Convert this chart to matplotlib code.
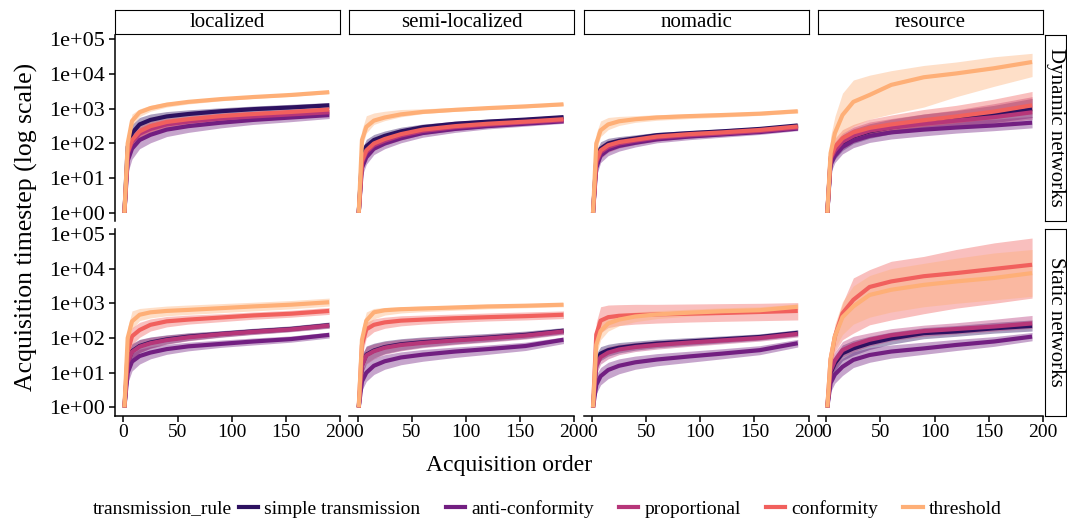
import matplotlib.pyplot as plt
from matplotlib.lines import Line2D
from matplotlib.ticker import FixedLocator, NullLocator

plt.rcParams['font.family'] = ['Liberation Serif', 'DejaVu Serif']

x_order = [1, 4, 8, 15, 25, 40, 60, 90, 120, 155, 190]

rules = ['simple transmission', 'anti-conformity', 'proportional', 'conformity', 'threshold']
colors = ['#2D1160', '#721F81', '#B63679', '#F1605D', '#FEAF77']
movement = ['localized', 'semi-localized', 'nomadic', 'resource']
networks = ['Dynamic networks', 'Static networks']

y_ticks = [1, 10, 100, 1000, 10000, 100000]
y_tick_labels = ['1e+00', '1e+01', '1e+02', '1e+03', '1e+04', '1e+05']
x_ticks = [0, 50, 100, 150, 200]

# log10(acquisition timestep); rows in the order of `rules`
dyn_loc_mid = [
    [0, 1.9, 2.3, 2.55, 2.68, 2.78, 2.85, 2.93, 2.99, 3.04, 3.1],
    [0, 1.5, 1.85, 2.1, 2.25, 2.4, 2.5, 2.6, 2.68, 2.75, 2.82],
    [0, 1.7, 2.05, 2.28, 2.42, 2.55, 2.63, 2.72, 2.78, 2.84, 2.9],
    [0, 1.75, 2.1, 2.35, 2.5, 2.62, 2.7, 2.79, 2.85, 2.91, 2.98],
    [0, 2.0, 2.65, 2.9, 3.02, 3.12, 3.2, 3.28, 3.34, 3.4, 3.48],
]
dyn_loc_lo = [
    [0, 1.6, 2.05, 2.35, 2.5, 2.63, 2.72, 2.82, 2.89, 2.95, 3.02],
    [0, 1.15, 1.55, 1.85, 2.02, 2.2, 2.32, 2.45, 2.55, 2.63, 2.72],
    [0, 1.45, 1.85, 2.1, 2.25, 2.4, 2.5, 2.6, 2.68, 2.75, 2.82],
    [0, 1.5, 1.9, 2.17, 2.33, 2.48, 2.58, 2.68, 2.76, 2.83, 2.9],
    [0, 1.8, 2.5, 2.78, 2.93, 3.05, 3.14, 3.23, 3.3, 3.36, 3.44],
]
dyn_loc_hi = [
    [0, 2.2, 2.55, 2.75, 2.85, 2.92, 2.97, 3.03, 3.08, 3.13, 3.18],
    [0, 1.8, 2.1, 2.3, 2.43, 2.55, 2.65, 2.73, 2.8, 2.86, 2.92],
    [0, 1.95, 2.25, 2.45, 2.58, 2.68, 2.75, 2.83, 2.88, 2.93, 2.98],
    [0, 2.0, 2.3, 2.5, 2.63, 2.73, 2.8, 2.88, 2.93, 2.98, 3.05],
    [0, 2.3, 2.85, 3.0, 3.1, 3.19, 3.25, 3.32, 3.38, 3.43, 3.52],
]

dyn_semi_mid = [
    [0, 1.6, 1.92, 2.1, 2.22, 2.35, 2.47, 2.57, 2.63, 2.69, 2.76],
    [0, 1.3, 1.6, 1.85, 2.0, 2.15, 2.3, 2.42, 2.5, 2.57, 2.64],
    [0, 1.45, 1.75, 1.95, 2.08, 2.23, 2.36, 2.47, 2.54, 2.61, 2.67],
    [0, 1.5, 1.8, 2.0, 2.13, 2.27, 2.4, 2.5, 2.57, 2.63, 2.7],
    [0, 2.1, 2.48, 2.66, 2.75, 2.84, 2.91, 2.97, 3.02, 3.07, 3.13],
]
dyn_semi_lo = [
    [0, 1.4, 1.75, 1.95, 2.08, 2.22, 2.36, 2.48, 2.55, 2.62, 2.7],
    [0, 1.05, 1.4, 1.68, 1.85, 2.02, 2.18, 2.32, 2.42, 2.5, 2.58],
    [0, 1.25, 1.58, 1.8, 1.95, 2.1, 2.26, 2.38, 2.47, 2.54, 2.61],
    [0, 1.3, 1.62, 1.85, 2.0, 2.15, 2.3, 2.42, 2.5, 2.57, 2.64],
    [0, 1.9, 2.3, 2.55, 2.66, 2.77, 2.86, 2.93, 2.98, 3.03, 3.09],
]
dyn_semi_hi = [
    [0, 1.85, 2.12, 2.26, 2.36, 2.47, 2.56, 2.64, 2.7, 2.75, 2.82],
    [0, 1.55, 1.8, 2.0, 2.13, 2.27, 2.4, 2.5, 2.57, 2.63, 2.7],
    [0, 1.65, 1.93, 2.1, 2.22, 2.35, 2.46, 2.55, 2.61, 2.67, 2.73],
    [0, 1.7, 1.98, 2.15, 2.26, 2.38, 2.49, 2.58, 2.64, 2.69, 2.76],
    [0, 2.4, 2.8, 2.88, 2.93, 2.98, 3.0, 3.04, 3.07, 3.11, 3.17],
]

dyn_nom_mid = [
    [0, 1.55, 1.85, 2.0, 2.08, 2.15, 2.24, 2.3, 2.35, 2.42, 2.52],
    [0, 1.3, 1.65, 1.82, 1.93, 2.02, 2.12, 2.2, 2.26, 2.33, 2.43],
    [0, 1.45, 1.75, 1.9, 2.0, 2.08, 2.17, 2.24, 2.29, 2.36, 2.46],
    [0, 1.5, 1.8, 1.95, 2.04, 2.11, 2.2, 2.27, 2.32, 2.39, 2.49],
    [0, 2.0, 2.38, 2.55, 2.64, 2.7, 2.75, 2.79, 2.82, 2.86, 2.93],
]
dyn_nom_lo = [
    [0, 1.35, 1.68, 1.86, 1.96, 2.05, 2.15, 2.22, 2.28, 2.36, 2.46],
    [0, 1.05, 1.45, 1.65, 1.78, 1.9, 2.02, 2.11, 2.18, 2.26, 2.37],
    [0, 1.25, 1.57, 1.75, 1.87, 1.97, 2.07, 2.16, 2.22, 2.3, 2.4],
    [0, 1.3, 1.62, 1.8, 1.91, 2.0, 2.1, 2.19, 2.25, 2.33, 2.43],
    [0, 1.8, 2.2, 2.4, 2.52, 2.61, 2.67, 2.72, 2.76, 2.81, 2.88],
]
dyn_nom_hi = [
    [0, 1.8, 2.05, 2.15, 2.2, 2.25, 2.32, 2.37, 2.42, 2.48, 2.57],
    [0, 1.55, 1.85, 1.98, 2.07, 2.14, 2.22, 2.28, 2.33, 2.4, 2.5],
    [0, 1.65, 1.92, 2.04, 2.12, 2.18, 2.26, 2.32, 2.36, 2.42, 2.52],
    [0, 1.7, 1.97, 2.09, 2.16, 2.21, 2.29, 2.35, 2.39, 2.45, 2.55],
    [0, 2.3, 2.65, 2.75, 2.78, 2.8, 2.83, 2.86, 2.88, 2.92, 2.98],
]

dyn_res_mid = [
    [0, 1.5, 1.75, 2.0, 2.2, 2.35, 2.47, 2.6, 2.7, 2.83, 2.99],
    [0, 1.4, 1.65, 1.9, 2.08, 2.22, 2.32, 2.4, 2.46, 2.52, 2.6],
    [0, 1.55, 1.8, 2.05, 2.22, 2.37, 2.46, 2.57, 2.66, 2.76, 2.9],
    [0, 1.6, 1.9, 2.15, 2.32, 2.45, 2.55, 2.67, 2.78, 2.92, 3.1],
    [0, 1.72, 2.3, 2.82, 3.2, 3.4, 3.69, 3.91, 4.02, 4.17, 4.35],
]
dyn_res_lo = [
    [0, 1.25, 1.55, 1.8, 2.0, 2.15, 2.28, 2.4, 2.5, 2.6, 2.75],
    [0, 1.15, 1.45, 1.7, 1.88, 2.03, 2.13, 2.22, 2.3, 2.37, 2.45],
    [0, 1.3, 1.6, 1.85, 2.03, 2.18, 2.3, 2.4, 2.48, 2.57, 2.7],
    [0, 1.35, 1.7, 1.95, 2.12, 2.27, 2.38, 2.5, 2.6, 2.72, 2.88],
    [0, 1.4, 1.9, 2.25, 2.5, 2.7, 2.85, 3.05, 3.35, 3.65, 3.93],
]
dyn_res_hi = [
    [0, 1.8, 2.0, 2.25, 2.42, 2.57, 2.7, 2.85, 2.95, 3.1, 3.3],
    [0, 1.65, 1.88, 2.1, 2.27, 2.42, 2.52, 2.6, 2.65, 2.7, 2.78],
    [0, 1.8, 2.05, 2.3, 2.47, 2.62, 2.72, 2.85, 2.97, 3.15, 3.35],
    [0, 1.9, 2.15, 2.4, 2.55, 2.7, 2.82, 2.98, 3.1, 3.28, 3.5],
    [0, 2.2, 2.78, 3.45, 3.83, 3.97, 4.1, 4.25, 4.35, 4.5, 4.6],
]

sta_loc_mid = [
    [0, 1.3, 1.62, 1.77, 1.87, 1.96, 2.04, 2.12, 2.19, 2.26, 2.37],
    [0, 1.0, 1.32, 1.48, 1.58, 1.68, 1.76, 1.83, 1.9, 1.97, 2.09],
    [0, 1.3, 1.6, 1.75, 1.85, 1.94, 2.02, 2.11, 2.18, 2.25, 2.36],
    [0, 1.6, 2.05, 2.23, 2.38, 2.48, 2.53, 2.59, 2.65, 2.7, 2.78],
    [0, 2.0, 2.48, 2.67, 2.74, 2.78, 2.81, 2.86, 2.91, 2.96, 3.03],
]
sta_loc_lo = [
    [0, 1.05, 1.4, 1.58, 1.71, 1.83, 1.93, 2.03, 2.11, 2.19, 2.29],
    [0, 0.7, 1.05, 1.25, 1.4, 1.53, 1.63, 1.73, 1.8, 1.88, 2.0],
    [0, 1.05, 1.38, 1.57, 1.7, 1.82, 1.92, 2.02, 2.1, 2.18, 2.28],
    [0, 1.35, 1.8, 2.02, 2.2, 2.32, 2.4, 2.47, 2.54, 2.6, 2.68],
    [0, 1.8, 2.25, 2.5, 2.58, 2.64, 2.68, 2.73, 2.78, 2.84, 2.92],
]
sta_loc_hi = [
    [0, 1.55, 1.84, 1.96, 2.03, 2.09, 2.15, 2.21, 2.28, 2.35, 2.46],
    [0, 1.3, 1.55, 1.68, 1.75, 1.82, 1.88, 1.94, 2.0, 2.06, 2.17],
    [0, 1.55, 1.82, 1.95, 2.02, 2.08, 2.14, 2.2, 2.27, 2.34, 2.45],
    [0, 1.85, 2.3, 2.45, 2.55, 2.62, 2.66, 2.7, 2.75, 2.8, 2.88],
    [0, 2.3, 2.78, 2.85, 2.88, 2.92, 2.95, 2.99, 3.03, 3.08, 3.15],
]

sta_semi_mid = [
    [0, 1.22, 1.52, 1.64, 1.74, 1.82, 1.88, 1.95, 2.01, 2.09, 2.21],
    [0, 0.75, 1.0, 1.2, 1.33, 1.44, 1.52, 1.61, 1.68, 1.77, 1.95],
    [0, 1.2, 1.5, 1.62, 1.72, 1.8, 1.86, 1.93, 1.99, 2.07, 2.19],
    [0, 1.8, 2.25, 2.38, 2.45, 2.5, 2.53, 2.57, 2.6, 2.63, 2.67],
    [0, 1.95, 2.5, 2.74, 2.8, 2.83, 2.85, 2.88, 2.91, 2.93, 2.96],
]
sta_semi_lo = [
    [0, 0.97, 1.27, 1.42, 1.55, 1.65, 1.74, 1.83, 1.9, 1.99, 2.12],
    [0, 0.5, 0.75, 0.95, 1.1, 1.23, 1.33, 1.44, 1.53, 1.64, 1.84],
    [0, 0.95, 1.25, 1.4, 1.53, 1.63, 1.72, 1.81, 1.88, 1.97, 2.1],
    [0, 1.5, 2.0, 2.18, 2.28, 2.35, 2.4, 2.45, 2.49, 2.52, 2.56],
    [0, 1.7, 2.25, 2.55, 2.66, 2.72, 2.76, 2.8, 2.84, 2.87, 2.9],
]
sta_semi_hi = [
    [0, 1.52, 1.77, 1.85, 1.92, 1.98, 2.03, 2.08, 2.13, 2.2, 2.3],
    [0, 1.05, 1.27, 1.42, 1.52, 1.6, 1.67, 1.74, 1.8, 1.88, 2.03],
    [0, 1.5, 1.75, 1.83, 1.9, 1.96, 2.01, 2.06, 2.11, 2.18, 2.28],
    [0, 2.1, 2.45, 2.55, 2.6, 2.64, 2.66, 2.69, 2.72, 2.75, 2.78],
    [0, 2.3, 2.75, 2.85, 2.88, 2.9, 2.92, 2.94, 2.96, 2.98, 3.02],
]

sta_nom_mid = [
    [0, 1.3, 1.55, 1.65, 1.72, 1.78, 1.84, 1.9, 1.96, 2.03, 2.15],
    [0, 0.65, 0.9, 1.08, 1.2, 1.3, 1.38, 1.47, 1.55, 1.65, 1.85],
    [0, 1.2, 1.45, 1.58, 1.67, 1.74, 1.8, 1.87, 1.93, 2.0, 2.12],
    [0, 2.1, 2.5, 2.6, 2.64, 2.66, 2.68, 2.7, 2.72, 2.75, 2.78],
    [0, 1.8, 2.2, 2.42, 2.53, 2.62, 2.68, 2.73, 2.77, 2.8, 2.9],
]
sta_nom_lo = [
    [0, 1.05, 1.35, 1.48, 1.57, 1.65, 1.72, 1.79, 1.86, 1.94, 2.06],
    [0, 0.4, 0.65, 0.83, 0.97, 1.1, 1.2, 1.3, 1.4, 1.52, 1.74],
    [0, 0.95, 1.25, 1.4, 1.52, 1.61, 1.68, 1.76, 1.83, 1.91, 2.03],
    [0, 1.8, 2.15, 2.3, 2.36, 2.4, 2.43, 2.46, 2.48, 2.5, 2.52],
    [0, 1.5, 1.95, 2.2, 2.35, 2.47, 2.56, 2.63, 2.69, 2.73, 2.82],
]
sta_nom_hi = [
    [0, 1.55, 1.75, 1.82, 1.87, 1.91, 1.96, 2.01, 2.06, 2.12, 2.24],
    [0, 0.95, 1.15, 1.3, 1.4, 1.48, 1.55, 1.62, 1.69, 1.78, 1.96],
    [0, 1.45, 1.65, 1.75, 1.82, 1.87, 1.92, 1.98, 2.03, 2.09, 2.21],
    [0, 2.45, 2.9, 2.95, 2.96, 2.97, 2.97, 2.98, 2.99, 3.0, 3.02],
    [0, 2.1, 2.45, 2.62, 2.7, 2.75, 2.79, 2.83, 2.87, 2.9, 2.98],
]

sta_res_mid = [
    [0, 1.0, 1.27, 1.56, 1.7, 1.85, 1.99, 2.14, 2.19, 2.28, 2.35],
    [0, 0.7, 0.95, 1.17, 1.37, 1.51, 1.61, 1.7, 1.8, 1.9, 2.04],
    [0, 1.05, 1.35, 1.65, 1.8, 1.95, 2.08, 2.2, 2.26, 2.33, 2.42],
    [0, 1.37, 2.05, 2.71, 3.1, 3.47, 3.63, 3.78, 3.87, 3.99, 4.11],
    [0, 1.4, 2.05, 2.6, 2.91, 3.24, 3.39, 3.53, 3.63, 3.73, 3.87],
]
sta_res_lo = [
    [0, 0.75, 1.05, 1.35, 1.5, 1.67, 1.82, 1.98, 2.05, 2.14, 2.2],
    [0, 0.45, 0.7, 0.92, 1.15, 1.3, 1.42, 1.53, 1.64, 1.76, 1.92],
    [0, 0.8, 1.12, 1.45, 1.6, 1.77, 1.92, 2.05, 2.12, 2.2, 2.28],
    [0, 1.1, 1.6, 1.95, 2.14, 2.38, 2.52, 2.7, 2.86, 3.0, 3.15],
    [0, 1.1, 1.7, 2.1, 2.4, 2.6, 2.75, 2.9, 3.0, 3.1, 3.2],
]
sta_res_hi = [
    [0, 1.25, 1.5, 1.8, 1.93, 2.05, 2.17, 2.3, 2.36, 2.45, 2.52],
    [0, 0.95, 1.2, 1.42, 1.6, 1.72, 1.8, 1.88, 1.96, 2.04, 2.16],
    [0, 1.3, 1.6, 1.9, 2.05, 2.15, 2.27, 2.37, 2.44, 2.54, 2.65],
    [0, 1.7, 2.33, 3.0, 3.73, 3.97, 4.21, 4.35, 4.55, 4.74, 4.88],
    [0, 1.7, 2.4, 3.05, 3.5, 3.8, 4.0, 4.15, 4.3, 4.45, 4.55],
]

panels = [
    [(dyn_loc_mid, dyn_loc_lo, dyn_loc_hi), (dyn_semi_mid, dyn_semi_lo, dyn_semi_hi),
     (dyn_nom_mid, dyn_nom_lo, dyn_nom_hi), (dyn_res_mid, dyn_res_lo, dyn_res_hi)],
    [(sta_loc_mid, sta_loc_lo, sta_loc_hi), (sta_semi_mid, sta_semi_lo, sta_semi_hi),
     (sta_nom_mid, sta_nom_lo, sta_nom_hi), (sta_res_mid, sta_res_lo, sta_res_hi)],
]

W, H = 1067, 522
fig = plt.figure(figsize=(W / 100, H / 100), dpi=100)


def box(x0, y0, x1, y1):
    # pixel box (top-left origin) -> figure fraction rect
    return [x0 / W, 1 - y1 / H, (x1 - x0) / W, (y1 - y0) / H]


col_left = [115 + 234.3 * c for c in range(4)]
row_top = [34.6, 229.0]
row_bot = [221.0, 415.6]

for r in range(2):
    for c in range(4):
        ax = fig.add_axes(box(col_left[c], row_top[r], col_left[c] + 225, row_bot[r]))
        mid, lo, hi = panels[r][c]
        for k in range(len(rules)):
            ax.fill_between(x_order, [10 ** v for v in lo[k]], [10 ** v for v in hi[k]],
                            color=colors[k], alpha=0.4, lw=0)
        for k in range(len(rules)):
            ax.plot(x_order, [10 ** v for v in mid[k]], color=colors[k], lw=3, solid_capstyle='butt')
        ax.set_yscale('log')
        ax.set_ylim(10 ** -0.235, 10 ** 5.14)
        ax.set_xlim(-7.7, 200)
        for s in ['top', 'right']:
            ax.spines[s].set_visible(False)
        ax.spines['left'].set_visible(c == 0)
        ax.spines['bottom'].set_visible(r == 1)
        for s in ['left', 'bottom']:
            ax.spines[s].set_linewidth(1.1)
        ax.yaxis.set_major_locator(FixedLocator(y_ticks))
        ax.yaxis.set_minor_locator(NullLocator())
        ax.set_xticks(x_ticks)
        ax.tick_params(length=4, width=1.1, labelsize=14, pad=2)
        if c == 0:
            ax.set_yticklabels(y_tick_labels)
            ax.tick_params(axis='y', labelsize=16, pad=3)
        else:
            ax.tick_params(axis='y', left=False, labelleft=False)
        if r == 0:
            ax.tick_params(axis='x', bottom=False, labelbottom=False)
        ax.patch.set_alpha(0)

        # facet strips
        if r == 0:
            sx = fig.add_axes(box(col_left[c], 9.5, col_left[c] + 225, 34))
            sx.set_xticks([]); sx.set_yticks([])
            sx.text(0.5, 0.45, movement[c], ha='center', va='center', fontsize=15,
                    transform=sx.transAxes)
        if c == 3:
            sy = fig.add_axes(box(1045, row_top[r], 1066, row_bot[r]))
            sy.set_xticks([]); sy.set_yticks([])
            sy.text(0.5, 0.5, networks[r], ha='center', va='center', fontsize=15,
                    rotation=-90, transform=sy.transAxes)

fig.text(26 / W, 1 - 227 / H, 'Acquisition timestep (log scale)', rotation=90,
         ha='center', va='center', fontsize=18.5)
fig.text(509 / W, 1 - 466 / H, 'Acquisition order', ha='center', va='center', fontsize=17)

handles = [Line2D([], [], color=col, lw=3) for col in colors]
fig.text(93 / W, 1 - 509 / H, 'transmission_rule', ha='left', va='center', fontsize=14)
fig.legend(handles, rules, ncol=5, loc='center left', bbox_to_anchor=(239 / W, 1 - 509 / H),
           frameon=False, fontsize=14, handlelength=1.0, handletextpad=0.3,
           columnspacing=1.3, borderpad=0, borderaxespad=0)

fig.savefig('out.png', dpi=100)
